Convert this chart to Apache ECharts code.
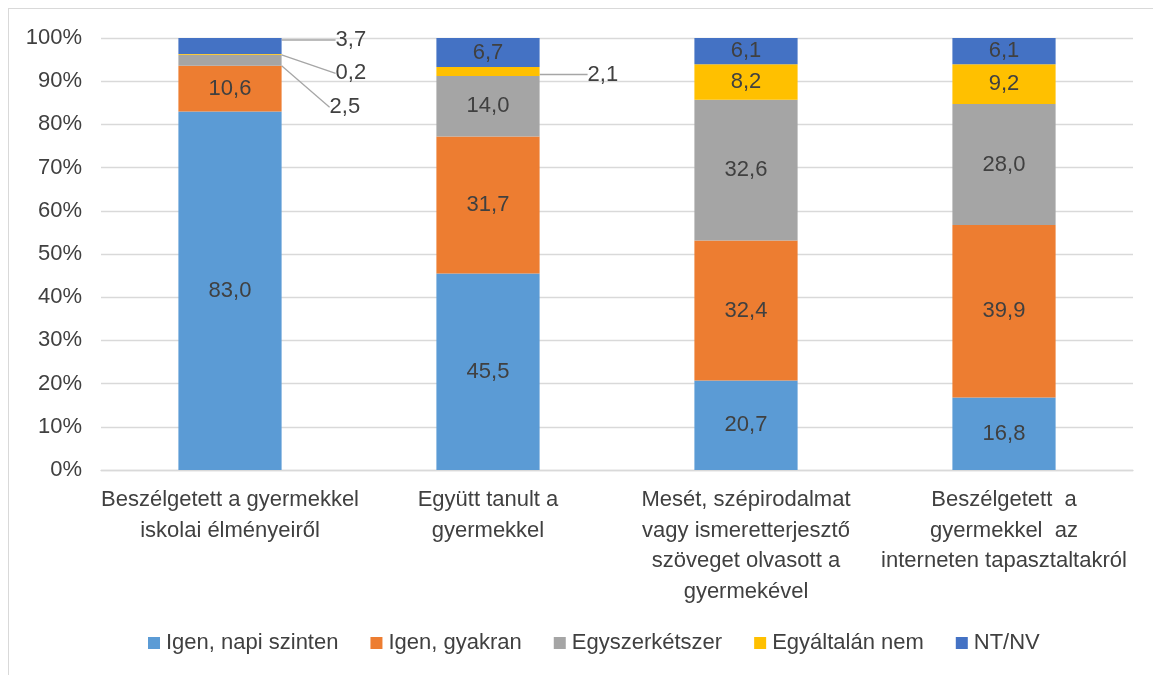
<!DOCTYPE html>
<html>
<head>
<meta charset="utf-8">
<script src="https://cdn.jsdelivr.net/npm/echarts@6/dist/echarts.min.js"></script>
<style>
  html, body { margin: 0; padding: 0; background: #fff; }
  #frame { position: absolute; left: 8px; top: 8px; width: 1160px; height: 680px;
           border-top: 1px solid #d9d9d9; border-left: 1px solid #d9d9d9; }
  #chart { width: 1153px; height: 675px; position: absolute; left: 0; top: 0; }
</style>
</head>
<body>
<div id="frame"></div>
<div id="chart"></div>
<script>
  // kategóriák
  const categories = [
    'Beszélgetett a gyermekkel\niskolai élményeiről',
    'Együtt tanult a\ngyermekkel',
    'Mesét, szépirodalmat\nvagy ismeretterjesztő\nszöveget olvasott a\ngyermekével',
    'Beszélgetett  a\ngyermekkel  az\ninterneten tapasztaltakról'
  ]
  const seriesNames = ['Igen, napi szinten', 'Igen, gyakran', 'Egyszerkétszer', 'Egyáltalán nem', 'NT/NV']
  const napiSzinten = [83.0, 45.5, 20.7, 16.8]
  const gyakran = [10.6, 31.7, 32.4, 39.9]
  const egyszerKetszer = [2.5, 14.0, 32.6, 28.0]
  const egyaltalanNem = [0.2, 2.1, 8.2, 9.2]
  const ntnv = [3.7, 6.7, 6.1, 6.1]
  const yTicks = [0, 10, 20, 30, 40, 50, 60, 70, 80, 90, 100]

  const colors = ['#5B9BD5', '#ED7D31', '#A5A5A5', '#FFC000', '#4472C4']
  const font = 'Liberation Sans'
  const textColor = '#404040'
  const fs = 22

  // kis értékek: címke a sáv mellett, vezetővonallal  'sorozat-kategória': [dx, dy]
  const outside = {
    '2-0': [48, 47],
    '3-0': [54, 19],
    '4-0': [54, -6],
    '3-1': [48, 3]
  }

  const allData = [napiSzinten, gyakran, egyszerKetszer, egyaltalanNem, ntnv]

  let chart = echarts.init(document.getElementById('chart'))

  let series = allData.map((vals, si) => {
    return {
      name: seriesNames[si],
      type: 'bar',
      stack: 'total',
      barWidth: '40%',
      itemStyle: { color: colors[si] },
      label: {
        show: true,
        position: 'inside',
        color: textColor,
        fontFamily: font,
        fontSize: fs,
        formatter: (p) => p.value.toFixed(1).replace('.', ',')
      },
      labelLine: { show: false },
      labelLayout: function (params) {
        let key = si + '-' + params.dataIndex
        if (outside[key]) {
          let r = params.rect
          return {
            x: r.x + r.width + outside[key][0],
            y: r.y + r.height / 2 + outside[key][1],
            align: 'left',
            verticalAlign: 'middle'
          }
        }
        return {}
      },
      data: vals.map((v, ci) => {
        let key = si + '-' + ci
        if (outside[key]) {
          return {
            value: v,
            labelLine: { show: true, lineStyle: { color: '#A6A6A6', width: 1.3 } }
          }
        }
        return v
      })
    }
  })

  let options = {
    animation: false,
    color: colors,
    textStyle: { fontFamily: font },
    grid: { left: 101, right: 20, top: 38, height: 432 },
    legend: {
      top: 627,
      left: 143,
      itemWidth: 12,
      itemHeight: 12,
      itemGap: 32,
      icon: 'rect',
      textStyle: { color: textColor, fontFamily: font, fontSize: fs, padding: [0, 0, 0, 1] },
      data: seriesNames
    },
    xAxis: {
      type: 'category',
      data: categories,
      axisTick: { show: false },
      axisLine: { lineStyle: { color: '#D9D9D9', width: 1.3 } },
      axisLabel: {
        color: textColor,
        fontFamily: font,
        fontSize: fs,
        lineHeight: 30.5,
        margin: 15,
        interval: 0
      }
    },
    yAxis: {
      type: 'value',
      min: yTicks[0],
      max: yTicks[yTicks.length - 1],
      interval: 10,
      axisLine: { show: false },
      axisTick: { show: false },
      splitLine: { lineStyle: { color: '#D9D9D9', width: 1.3 } },
      axisLabel: {
        color: textColor,
        fontFamily: font,
        fontSize: fs,
        margin: 19,
        formatter: '{value}%'
      }
    },
    series: series
  }
  chart.setOption(options)
</script>
</body>
</html>
